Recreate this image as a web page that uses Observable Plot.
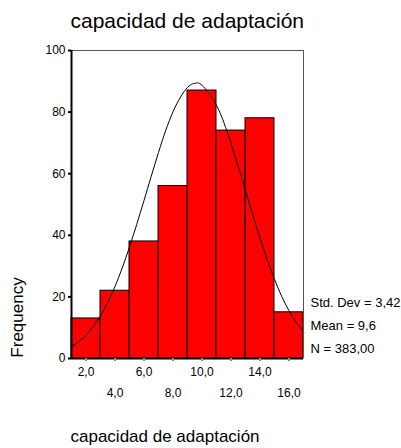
<!DOCTYPE html>
<html><head><meta charset="utf-8">
<script src="https://cdn.jsdelivr.net/npm/d3@7"></script>
<script src="https://cdn.jsdelivr.net/npm/@observablehq/plot@0.6"></script>
<style>body{margin:0;background:#fff;font-family:Arial,"Liberation Sans",sans-serif}</style>
</head><body><div id="chart"></div>
<script>
const binStart = [1, 3, 5, 7, 9, 11, 13, 15];
const binEnd   = [3, 5, 7, 9, 11, 13, 15, 17];
const counts   = [13, 22, 38, 56, 87, 74, 78, 15];
const curveX = [1, 2, 3, 4, 5, 6, 7, 8, 9, 9.6, 10, 11, 12, 13, 14, 15, 16, 17];
const curveY = [3.8, 7.6, 13.9, 23.4, 36.2, 51.3, 66.9, 80.1, 88.0, 89.4, 88.7, 82.2, 69.8, 54.5, 39.1, 25.7, 15.5, 8.6];
const yTicks = [0, 20, 40, 60, 80, 100];
const xTicksRow1 = [2, 6, 10, 14];
const xTicksRow2 = [4, 8, 12, 16];
const allXTicks = [2, 4, 6, 8, 10, 12, 14, 16];
const statsLines = ["Std. Dev = 3,42", "Mean = 9,6", "N = 383,00"];
const titleText = "capacidad de adaptación";
const yLabel = "Frequency";
const xLabel = "capacidad de adaptación";

const bins = binStart.map((s, i) => ({x1: s, x2: binEnd[i], y: counts[i]}));
const curve = curveX.map((x, i) => ({x, y: curveY[i]}));
const fmt = d => d.toFixed(1).replace(".", ",");

const chart = Plot.plot({
  width: 401, height: 448,
  marginLeft: 71, marginRight: 98, marginTop: 50, marginBottom: 90,
  style: {fontFamily: "Arial, 'Liberation Sans', sans-serif", fontSize: "12px", color: "#000", background: "#fff"},
  x: {domain: [1, 17], axis: null},
  y: {domain: [0, 100], axis: null},
  marks: [
    Plot.rectY(bins, {x1: "x1", x2: "x2", y: "y", fill: "#ff0000", stroke: "#000", strokeWidth: 1}),
    Plot.line(curve, {x: "x", y: "y", stroke: "#000", strokeWidth: 1, curve: "natural"}),
    Plot.ruleY([100], {stroke: "#555", strokeWidth: 1}),
    Plot.ruleX([17], {stroke: "#555", strokeWidth: 1}),
    Plot.ruleX([1], {stroke: "#000", strokeWidth: 2}),
    Plot.ruleY([0], {stroke: "#000", strokeWidth: 2}),
    Plot.axisY(yTicks, {tickSize: 3, strokeWidth: 2, tickPadding: 3, fontSize: 12, tickFormat: d => d, label: null}),
    Plot.axisX(allXTicks, {tickSize: 3, stroke: "#888", strokeWidth: 2, tickFormat: () => "", label: null}),
    Plot.axisX(xTicksRow1, {tickSize: 0, tickPadding: 9, fontSize: 12, tickFormat: fmt, label: null}),
    Plot.axisX(xTicksRow2, {tickSize: 0, tickPadding: 30, fontSize: 12, tickFormat: fmt, label: null}),
    Plot.text(statsLines, {text: d => d, frameAnchor: "bottom-right", textAnchor: "start", dx: 7,
      fontSize: 13, lineAnchor: "middle"}),
    Plot.text([titleText], {text: d => d, frameAnchor: "top-left", textAnchor: "start", lineAnchor: "bottom", dx: -1, dy: -23, fontSize: 21}),
    Plot.text([yLabel], {text: d => d, frameAnchor: "bottom-left", rotate: -90, textAnchor: "middle", dx: -49, dy: -41, fontSize: 17}),
    Plot.text([xLabel], {text: d => d, frameAnchor: "bottom-left", textAnchor: "start", lineAnchor: "middle", dx: -1, dy: 78, fontSize: 17})
  ]
});
document.getElementById("chart").appendChild(chart);
// stack the stats lines vertically
const statsTexts = chart.querySelectorAll("g[aria-label='text']")[0].querySelectorAll("text");
const offs = [-56, -33, -10];
statsTexts.forEach((t, i) => {
  const tr = t.getAttribute("transform") || "";
  t.setAttribute("transform", tr + ` translate(0,${offs[i]})`);
});
</script></body></html>
